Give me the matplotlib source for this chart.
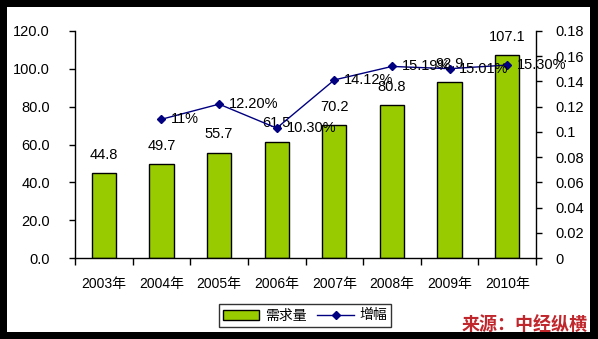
import matplotlib
matplotlib.use("Agg")
import matplotlib.pyplot as plt
from matplotlib.patches import Rectangle
import numpy as np

plt.rcParams['font.family'] = ['Liberation Sans', 'Noto Sans CJK SC']
plt.rcParams['font.size'] = 10

years = ['2003年', '2004年', '2005年', '2006年', '2007年', '2008年', '2009年', '2010年']
demand = [44.8, 49.7, 55.7, 61.5, 70.2, 80.8, 92.9, 107.1]
growth = [None, 0.11, 0.122, 0.103, 0.1412, 0.1519, 0.1501, 0.1530]
growth_labels = ['', '11%', '12.20%', '10.30%', '14.12%', '15.19%', '15.01%', '15.30%']

W, H = 598, 339
fig = plt.figure(figsize=(W / 100, H / 100), dpi=100, facecolor='black')
# white page inside the black frame
fig.patches.append(Rectangle((7 / W, 7 / H), (590 - 7) / W, (332 - 7) / H,
                             transform=fig.transFigure, facecolor='white',
                             edgecolor='none', zorder=-1))

ax = fig.add_axes([75 / W, (H - 258) / H, (536 - 75) / W, (258 - 31) / H])
ax.set_facecolor('none')
x = np.arange(len(years))
bars = ax.bar(x, demand, width=0.42, color='#99CC00', edgecolor='black',
              linewidth=1, label='需求量', zorder=2)
for xi, v in zip(x, demand):
    ax.text(xi, v + 6, f'{v:.1f}', ha='center', va='bottom', fontsize=10.5)

ax.set_xlim(-0.5, len(years) - 0.5)
ax.set_ylim(0, 120)
ax.set_yticks(np.arange(0, 121, 20))
ax.set_yticklabels([f'{t:.1f}' for t in np.arange(0, 121, 20)], fontsize=10.5)
ax.set_xticks(x)
ax.set_xticklabels(years, fontsize=10)
ax.set_xticks(np.arange(-0.5, len(years), 1), minor=True)
ax.tick_params(axis='x', which='major', length=0, pad=14)
ax.tick_params(axis='x', which='minor', length=5, direction='out', width=1)
ax.tick_params(axis='y', length=4, direction='out', width=1, pad=14)
for s in ['top', 'right']:
    ax.spines[s].set_visible(False)
for s in ['left', 'bottom']:
    ax.spines[s].set_linewidth(1)

ax2 = ax.twinx()
gx = [xi for xi, g in zip(x, growth) if g is not None]
gy = [g for g in growth if g is not None]
line, = ax2.plot(gx, gy, color='#000080', linewidth=1, marker='D',
                 markersize=4.5, label='增幅', zorder=3)
for xi, g, lab in zip(x, growth, growth_labels):
    if g is not None:
        ax2.text(xi + 0.17, g, lab, ha='left', va='center', fontsize=10.5)
ax2.set_ylim(0, 0.18)
ticks = np.arange(0, 0.181, 0.02)
ax2.set_yticks(ticks)
ax2.set_yticklabels(['0'] + [f'{t:g}' for t in ticks[1:]], fontsize=10.5)
ax2.tick_params(axis='y', length=4, direction='out', width=1, pad=10)
for s in ['top', 'left', 'bottom']:
    ax2.spines[s].set_visible(False)
ax2.spines['right'].set_linewidth(1)

leg = fig.legend(handles=[bars, line], labels=['需求量', '增幅'], ncol=2,
                 loc='center', bbox_to_anchor=(305 / W, (H - 315.5) / H),
                 frameon=True, fancybox=False, edgecolor='black',
                 handlelength=2.6, handletextpad=0.4, columnspacing=0.8,
                 borderpad=0.3, fontsize=10)
leg.get_frame().set_linewidth(1)

fig.text(588 / W, (H - 326) / H, '来源：中经纵横', ha='right', va='center',
         color='#C0272D', fontsize=13, fontweight='bold', style='italic')

fig.savefig('out.png', dpi=100, facecolor='black')
